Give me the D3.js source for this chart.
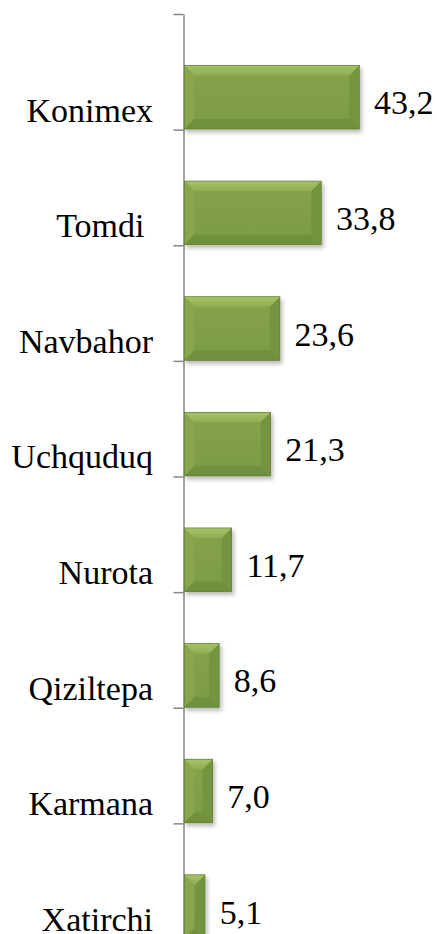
<!DOCTYPE html>
<html>
<head>
<meta charset="utf-8">
<script src="https://cdn.jsdelivr.net/npm/d3@7"></script>
<style>
  body { margin: 0; background: #fff; }
</style>
</head>
<body>
<svg id="chart" width="437" height="934"></svg>
<script>
// data
const categories = ['Konimex', 'Tomdi ', 'Navbahor', 'Uchquduq', 'Nurota', 'Qiziltepa', 'Karmana', 'Xatirchi'];
const values = [43.2, 33.8, 23.6, 21.3, 11.7, 8.6, 7.0, 5.1];
const xDomain = [0, 50];

const FONT = "'Times New Roman', 'Liberation Serif', Tinos, 'Noto Serif', 'DejaVu Serif', FreeSerif, Times, serif";

const svg = d3.select('#chart');
const data = categories.map((c, i) => ({ name: c, value: values[i] }));

// scales
const x = d3.scaleLinear().domain(xDomain).range([184, 386.5]);
const y = d3.scaleBand().domain(categories).range([14, 939]);
const yEdge = d3.scaleLinear().domain([0, categories.length]).range([14, 939]);

// bar sits in the lower part of each band (empty second series above)
const barTop = (d) => y(d.name) + y.bandwidth() * 0.445;
const barH = y.bandwidth() * 0.55;

const defs = svg.append('defs');
const shadow = defs.append('filter').attr('id', 'shadow')
  .attr('x', '-20%').attr('y', '-20%').attr('width', '150%').attr('height', '150%');
shadow.append('feDropShadow')
  .attr('dx', 2).attr('dy', 3).attr('stdDeviation', 2)
  .attr('flood-color', '#000').attr('flood-opacity', 0.28);

const topGrad = defs.append('linearGradient').attr('id', 'topGrad')
  .attr('x1', 0).attr('y1', 0).attr('x2', 0).attr('y2', 1);
topGrad.append('stop').attr('offset', '0%').attr('stop-color', '#a6c466');
topGrad.append('stop').attr('offset', '100%').attr('stop-color', '#8fae52');

const faceGrad = defs.append('linearGradient').attr('id', 'faceGrad')
  .attr('x1', 0).attr('y1', 0).attr('x2', 0).attr('y2', 1);
faceGrad.append('stop').attr('offset', '0%').attr('stop-color', '#84a34a');
faceGrad.append('stop').attr('offset', '100%').attr('stop-color', '#7c9b44');

// axis on the left, ticks at band edges
const axis = svg.append('g')
  .attr('transform', `translate(${x(0) - 0.5},0)`)
  .call(d3.axisLeft(yEdge)
    .tickValues(d3.range(categories.length + 1))
    .tickSize(10)
    .tickSizeOuter(0)
    .tickFormat(''));
axis.selectAll('path, line').attr('stroke', '#878787').attr('stroke-width', 1.5);

// bars with bevel
const bars = svg.append('g').selectAll('g.bar')
  .data(data)
  .join('g')
  .attr('class', 'bar')
  .attr('filter', 'url(#shadow)');

bars.each(function (d) {
  const g = d3.select(this);
  const x0 = x(0) + 0.3, y0 = barTop(d);
  const w = x(d.value) - x(0), h = barH;
  const b = Math.min(10, w / 2, h / 2);
  const pts = (arr) => arr.map((p) => p.join(',')).join(' ');

  g.append('rect').attr('x', x0).attr('y', y0).attr('width', w).attr('height', h)
    .attr('fill', 'url(#faceGrad)');
  // left
  g.append('polygon').attr('fill', '#87a64d')
    .attr('points', pts([[x0, y0], [x0 + b, y0 + b], [x0 + b, y0 + h - b], [x0, y0 + h]]));
  // right
  g.append('polygon').attr('fill', '#759440')
    .attr('points', pts([[x0 + w, y0], [x0 + w - b, y0 + b], [x0 + w - b, y0 + h - b], [x0 + w, y0 + h]]));
  // bottom
  g.append('polygon').attr('fill', '#71903d')
    .attr('points', pts([[x0, y0 + h], [x0 + b, y0 + h - b], [x0 + w - b, y0 + h - b], [x0 + w, y0 + h]]));
  // top
  g.append('polygon').attr('fill', 'url(#topGrad)')
    .attr('points', pts([[x0, y0], [x0 + w, y0], [x0 + w - b, y0 + b], [x0 + b, y0 + b]]));
  // thin dark edge
  g.append('rect').attr('x', x0).attr('y', y0).attr('width', w).attr('height', h)
    .attr('fill', 'none').attr('stroke', '#617d33').attr('stroke-width', 0.7);
});

// category labels
svg.append('g').selectAll('text')
  .data(data)
  .join('text')
  .attr('x', 153)
  .attr('y', (d) => y(d.name) + 107.5)
  .attr('text-anchor', 'end')
  .style('white-space', 'pre')
  .style('font-family', FONT)
  .attr('font-size', 34)
  .attr('fill', '#000')
  .text((d) => d.name);

// value labels
const fmt = (v) => d3.format('.1f')(v).replace('.', ',');
svg.append('g').selectAll('text')
  .data(data)
  .join('text')
  .attr('x', (d) => x(d.value) + 15)
  .attr('y', (d) => barTop(d) + barH / 2 + 17)
  .style('font-family', FONT)
  .attr('font-size', 34)
  .attr('fill', '#000')
  .text((d) => fmt(d.value));
</script>
</body>
</html>
